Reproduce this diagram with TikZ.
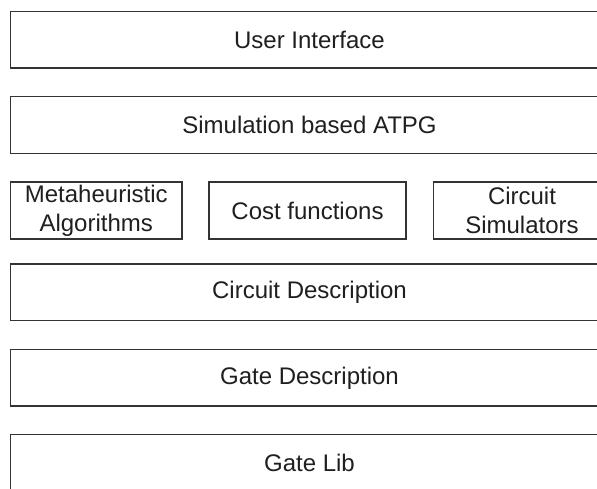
\documentclass[tikz,border=0pt]{standalone}
\usepackage{fontspec}
\setmainfont{Liberation Sans}
\begin{document}
\begin{tikzpicture}[x=1pt,y=1pt,
  layer/.style={draw=black!80, line width=1.3pt, rectangle, inner sep=0pt,
    text=black!88, font=\fontsize{24}{29}\selectfont, align=center},
  wide/.style={layer, minimum width=598pt, minimum height=56.5pt},
  small/.style={layer, minimum height=57pt}]
\useasboundingbox (0,0) rectangle (597,489);
\clip (0,0) rectangle (597,489);
\node[wide] (ui) at (309.5,449.25) {User Interface};
\node[wide] (atpg) at (309.5,364) {Simulation based ATPG};
\node[small, minimum width=171.5pt] (meta) at (96.25,278.5) {Metaheuristic\\Algorithms};
\node[small, minimum width=197pt] (cost) at (307.5,278.5) {Cost functions};
\node[small, minimum width=176.5pt] (sim) at (522,278.5) {Circuit\\Simulators};
\node[wide] (cd) at (309.5,196.7) {Circuit Description};
\node[wide] (gd) at (309.5,111.2) {Gate Description};
\node[wide] (gl) at (309.5,26) {Gate Lib};
\end{tikzpicture}
\end{document}
